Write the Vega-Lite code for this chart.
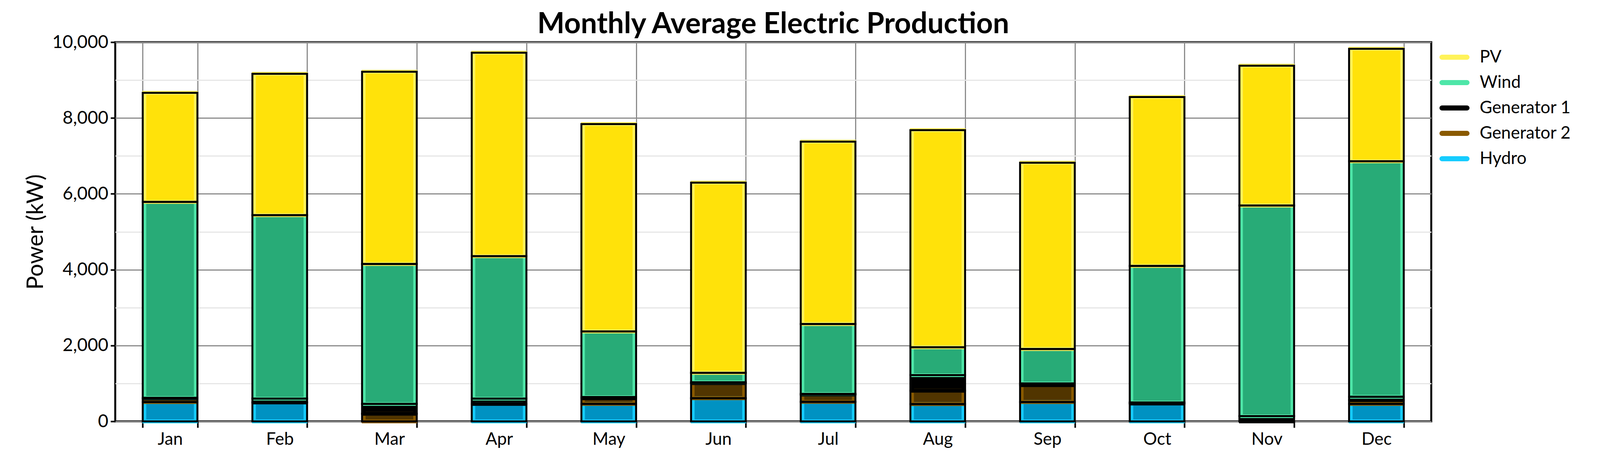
{
  "$schema": "https://vega.github.io/schema/vega-lite/v6.json",
  "autosize": "none",
  "width": 3369,
  "height": 971,
  "padding": {"left": 295, "top": 108, "right": 438, "bottom": 122},
  "background": "white",
  "title": {
    "text": "Monthly Average Electric Production",
    "font": "Lato",
    "fontSize": 74,
    "fontWeight": "bold",
    "color": "black",
    "anchor": "middle",
    "offset": -16
  },
  "data": {
    "values": [
      {"month": "Jan", "source": "Hydro", "power": 510},
      {"month": "Jan", "source": "Generator 2", "power": 90},
      {"month": "Jan", "source": "Generator 1", "power": 20},
      {"month": "Jan", "source": "Wind", "power": 5167},
      {"month": "Jan", "source": "PV", "power": 2878},
      {"month": "Feb", "source": "Hydro", "power": 500},
      {"month": "Feb", "source": "Generator 1", "power": 100},
      {"month": "Feb", "source": "Wind", "power": 4837},
      {"month": "Feb", "source": "PV", "power": 3728},
      {"month": "Mar", "source": "Generator 2", "power": 200},
      {"month": "Mar", "source": "Generator 1", "power": 260},
      {"month": "Mar", "source": "Wind", "power": 3690},
      {"month": "Mar", "source": "PV", "power": 5071},
      {"month": "Apr", "source": "Hydro", "power": 460},
      {"month": "Apr", "source": "Generator 1", "power": 140},
      {"month": "Apr", "source": "Wind", "power": 3756},
      {"month": "Apr", "source": "PV", "power": 5366},
      {"month": "May", "source": "Hydro", "power": 460},
      {"month": "May", "source": "Generator 2", "power": 150},
      {"month": "May", "source": "Generator 1", "power": 30},
      {"month": "May", "source": "Wind", "power": 1730},
      {"month": "May", "source": "PV", "power": 5470},
      {"month": "Jun", "source": "Hydro", "power": 610},
      {"month": "Jun", "source": "Generator 2", "power": 400},
      {"month": "Jun", "source": "Generator 1", "power": 20},
      {"month": "Jun", "source": "Wind", "power": 250},
      {"month": "Jun", "source": "PV", "power": 5016},
      {"month": "Jul", "source": "Hydro", "power": 515},
      {"month": "Jul", "source": "Generator 2", "power": 190},
      {"month": "Jul", "source": "Generator 1", "power": 20},
      {"month": "Jul", "source": "Wind", "power": 1843},
      {"month": "Jul", "source": "PV", "power": 4809},
      {"month": "Aug", "source": "Hydro", "power": 457},
      {"month": "Aug", "source": "Generator 2", "power": 351},
      {"month": "Aug", "source": "Generator 1", "power": 412},
      {"month": "Aug", "source": "Wind", "power": 735},
      {"month": "Aug", "source": "PV", "power": 5724},
      {"month": "Sep", "source": "Hydro", "power": 510},
      {"month": "Sep", "source": "Generator 2", "power": 445},
      {"month": "Sep", "source": "Generator 1", "power": 45},
      {"month": "Sep", "source": "Wind", "power": 908},
      {"month": "Sep", "source": "PV", "power": 4912},
      {"month": "Oct", "source": "Hydro", "power": 470},
      {"month": "Oct", "source": "Generator 1", "power": 30},
      {"month": "Oct", "source": "Wind", "power": 3600},
      {"month": "Oct", "source": "PV", "power": 4453},
      {"month": "Nov", "source": "Generator 1", "power": 140},
      {"month": "Nov", "source": "Wind", "power": 5552},
      {"month": "Nov", "source": "PV", "power": 3688},
      {"month": "Dec", "source": "Hydro", "power": 460},
      {"month": "Dec", "source": "Generator 2", "power": 100},
      {"month": "Dec", "source": "Generator 1", "power": 90},
      {"month": "Dec", "source": "Wind", "power": 6210},
      {"month": "Dec", "source": "PV", "power": 2965}
    ]
  },
  "transform": [
    {"calculate": "indexof(['Hydro', 'Generator 2', 'Generator 1', 'Wind', 'PV'], datum.source)", "as": "stackRank"},
    {"calculate": "datum.source", "as": "edge"}
  ],
  "encoding": {
    "x": {
      "field": "month",
      "type": "nominal",
      "sort": ["Jan", "Feb", "Mar", "Apr", "May", "Jun", "Jul", "Aug", "Sep", "Oct", "Nov", "Dec"],
      "scale": {"paddingInner": 0.5, "paddingOuter": 0.25},
      "axis": {
        "title": null,
        "labelAngle": 0,
        "tickBand": "extent",
        "domain": false,
        "grid": true,
        "gridColor": "#8c8c8c",
        "gridWidth": 3,
        "ticks": true,
        "tickColor": "black",
        "tickWidth": 4,
        "tickSize": 16,
        "labelPadding": 8,
        "labelFont": "Lato",
        "labelFontSize": 44,
        "labelColor": "black"
      }
    },
    "y": {
      "field": "power",
      "type": "quantitative",
      "stack": "zero",
      "scale": {"domain": [0, 10000], "nice": false},
      "axis": {
        "title": "Power (kW)",
        "titleFont": "Lato",
        "titleFontSize": 58,
        "titleFontWeight": "normal",
        "titleColor": "black",
        "titlePadding": 12,
        "values": [0, 1000, 2000, 3000, 4000, 5000, 6000, 7000, 8000, 9000, 10000],
        "format": ",d",
        "labelExpr": "datum.value % 2000 === 0 ? datum.label : ''",
        "labelFont": "Lato",
        "labelFontSize": 46,
        "labelColor": "black",
        "labelPadding": 6,
        "domain": false,
        "grid": true,
        "gridWidth": 3,
        "gridColor": {"condition": {"test": "datum.value % 2000 === 0", "value": "#8c8c8c"}, "value": "#e6e6e6"},
        "tickSize": 12,
        "tickWidth": 4,
        "tickColor": {"condition": {"test": "datum.value % 2000 === 0", "value": "black"}, "value": "transparent"}
      }
    },
    "order": {"field": "stackRank", "type": "quantitative", "sort": "ascending"}
  },
  "layer": [
    {
      "mark": {"type": "bar", "size": 140},
      "encoding": {
        "color": {
          "field": "source",
          "type": "nominal",
          "scale": {
            "domain": ["PV", "Wind", "Generator 1", "Generator 2", "Hydro"],
            "range": ["#ffe20a", "#28ab77", "#000000", "#513500", "#0092c2"]
          },
          "legend": {
            "title": null,
            "orient": "right",
            "offset": 21,
            "padding": 0,
            "rowPadding": 0,
            "symbolType": "stroke",
            "symbolSize": 4096,
            "symbolStrokeWidth": 13,
            "symbolOpacity": 1,
            "symbolStrokeColor": "#00a050",
            "labelFont": "Lato",
            "labelFontSize": 44,
            "labelColor": "black",
            "labelOffset": 26,
            "labelLimit": 0,
            "encode": {
              "symbols": {
                "update": {
                  "stroke": {"signal": "({'PV': '#ffd800', 'Wind': '#00a050', 'Generator 1': '#000000', 'Generator 2': '#3f2800', 'Hydro': '#0082c0'})[datum.value]"},
                  "opacity": {"value": 1},
                  "strokeOpacity": {"value": 1},
                  "strokeCap": {"value": "round"}
                }
              }
            }
          }
        }
      }
    },
    {
      "mark": {"type": "bar", "size": 132, "fill": "transparent", "strokeWidth": 10},
      "encoding": {
        "stroke": {
          "field": "edge",
          "type": "nominal",
          "scale": {
            "domain": ["PV", "Wind", "Generator 1", "Generator 2", "Hydro"],
            "range": ["#fff35a", "#4ee6a8", "#000000", "#8a5a00", "#16ccff"]
          },
          "legend": null
        }
      }
    },
    {
      "mark": {"type": "bar", "size": 140, "fill": "transparent", "stroke": "black", "strokeWidth": 5},
      "encoding": {
        "detail": {"field": "source", "type": "nominal"}
      }
    }
  ],
  "config": {
    "view": {"stroke": "black", "strokeWidth": 5},
    "font": "Lato"
  }
}
